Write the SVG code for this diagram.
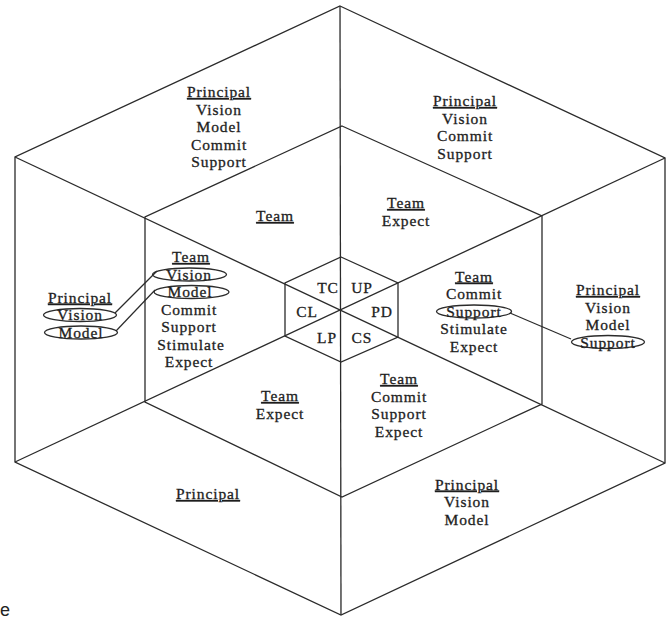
<svg xmlns="http://www.w3.org/2000/svg" width="668" height="619" viewBox="0 0 668 619">
<style>
.frame{fill:none;stroke:#2b2b2b;stroke-width:1.3;stroke-linejoin:miter}
.t{font-family:"Liberation Serif","Times New Roman",serif;font-size:15.5px;fill:#1e1e1e;stroke:#1e1e1e;stroke-width:0.3;text-anchor:middle;letter-spacing:0.9px}
.u{text-decoration:underline}
.ov{fill:none;stroke:#2b2b2b;stroke-width:1.3}
.conn{fill:none;stroke:#2b2b2b;stroke-width:1.2}
.cap{font-family:"Liberation Sans",Arial,sans-serif;font-size:18px;fill:#222}
</style>
<rect width="668" height="619" fill="#ffffff"/>
<g id="frame">
  <polygon class="frame" points="340,6 665,158 665,463 341,615 15,462 15,157"/>
  <polygon class="frame" points="342,126 542,216 542,404 342,497 145,402 145,217"/>
  <polygon class="frame" points="341,257 398,283 398,337 341,362 285,336 285,283"/>
  <line class="frame" x1="15" y1="157" x2="665" y2="463"/>
  <line class="frame" x1="15" y1="462" x2="665" y2="158"/>
  <line class="frame" x1="340" y1="6" x2="341" y2="615"/>
</g>
<g id="center">
  <text class="t" x="328" y="293">TC</text>
  <text class="t" x="362" y="293">UP</text>
  <text class="t" x="307" y="317">CL</text>
  <text class="t" x="382" y="317">PD</text>
  <text class="t" x="327" y="343">LP</text>
  <text class="t" x="362" y="343">CS</text>
</g>
<g id="outer-top-left">
  <text class="t u" x="219" y="97">Principal</text>
  <text class="t" x="219" y="114.5">Vision</text>
  <text class="t" x="219" y="132">Model</text>
  <text class="t" x="219" y="149.5">Commit</text>
  <text class="t" x="219" y="167">Support</text>
</g>
<g id="outer-top-right">
  <text class="t u" x="465" y="106">Principal</text>
  <text class="t" x="465" y="123.5">Vision</text>
  <text class="t" x="465" y="141">Commit</text>
  <text class="t" x="465" y="158.5">Support</text>
</g>
<g id="outer-left">
  <ellipse class="ov" cx="80" cy="315" rx="36.5" ry="6.5"/>
  <ellipse class="ov" cx="81" cy="332.5" rx="36.5" ry="6.5"/>
  <text class="t u" x="80" y="302.5">Principal</text>
  <text class="t" x="80" y="320">Vision</text>
  <text class="t" x="81" y="337.5">Model</text>
</g>
<g id="outer-right">
  <ellipse class="ov" cx="608" cy="342" rx="36.5" ry="6.5"/>
  <text class="t u" x="608" y="295">Principal</text>
  <text class="t" x="608" y="312.5">Vision</text>
  <text class="t" x="608" y="330">Model</text>
  <text class="t" x="608" y="347.5">Support</text>
</g>
<g id="outer-bottom-left">
  <text class="t u" x="208" y="499">Principal</text>
</g>
<g id="outer-bottom-right">
  <text class="t u" x="467" y="489.5">Principal</text>
  <text class="t" x="467" y="507">Vision</text>
  <text class="t" x="467" y="524.5">Model</text>
</g>
<g id="inner-top-left">
  <text class="t u" x="275" y="221">Team</text>
</g>
<g id="inner-top-right">
  <text class="t u" x="406" y="208">Team</text>
  <text class="t" x="406" y="225.5">Expect</text>
</g>
<g id="inner-left">
  <ellipse class="ov" cx="189.5" cy="274.5" rx="37" ry="6.5"/>
  <ellipse class="ov" cx="191.5" cy="292" rx="37.5" ry="6.5"/>
  <text class="t u" x="191" y="262">Team</text>
  <text class="t" x="189" y="279.5">Vision</text>
  <text class="t" x="190" y="297">Model</text>
  <text class="t" x="189" y="314.5">Commit</text>
  <text class="t" x="189" y="332">Support</text>
  <text class="t" x="191" y="349.5">Stimulate</text>
  <text class="t" x="189" y="367">Expect</text>
</g>
<g id="inner-right">
  <ellipse class="ov" cx="474" cy="311.5" rx="37.5" ry="6.5"/>
  <text class="t u" x="474" y="281.5">Team</text>
  <text class="t" x="474" y="299">Commit</text>
  <text class="t" x="474" y="316.5">Support</text>
  <text class="t" x="474" y="334">Stimulate</text>
  <text class="t" x="474" y="351.5">Expect</text>
</g>
<g id="inner-bottom-left">
  <text class="t u" x="280" y="401">Team</text>
  <text class="t" x="280" y="418.5">Expect</text>
</g>
<g id="inner-bottom-right">
  <text class="t u" x="399" y="384">Team</text>
  <text class="t" x="399" y="401.5">Commit</text>
  <text class="t" x="399" y="419">Support</text>
  <text class="t" x="399" y="436.5">Expect</text>
</g>
<g id="connectors">
  <line class="conn" x1="115" y1="313" x2="157" y2="271"/>
  <line class="conn" x1="116" y1="331" x2="155" y2="290"/>
  <line class="conn" x1="510" y1="313" x2="571" y2="339"/>
</g>
<text class="cap" x="0" y="616">e</text>
</svg>
